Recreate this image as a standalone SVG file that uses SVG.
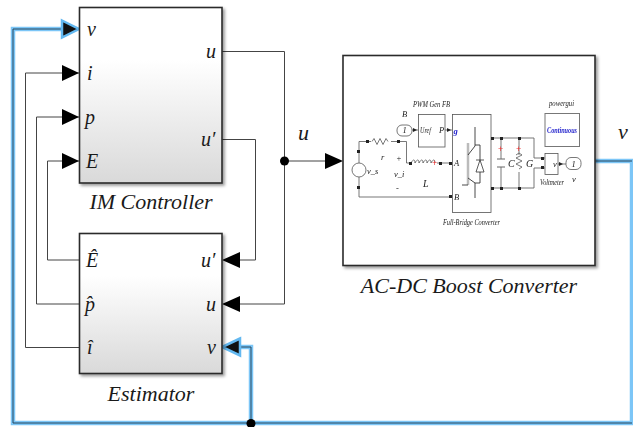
<svg xmlns="http://www.w3.org/2000/svg" width="633" height="427" viewBox="0 0 633 427">
<style>
.blk{stroke:#2b2b2b;stroke-width:1.6}
.w{fill:none;stroke:#444;stroke-width:1}
.glow{fill:none;stroke:#7cc6f7;stroke-width:4.5}
.core{fill:none;stroke:#24475f;stroke-width:1}
.t{font-family:"Liberation Serif",serif;font-style:italic;fill:#1a1a1a}
.m{font-size:20px}
.l{font-size:22px}
.s{font-family:"Liberation Serif",serif;font-style:italic;fill:#222;font-size:8.5px}
.s9{font-size:10px}
.bl{fill:#2222cc;font-weight:bold}
.c{fill:none;stroke:#555;stroke-width:.8}
.p{fill:#222}
.r{fill:#e33;font-family:"Liberation Sans",sans-serif;font-size:9px}
</style>
<defs>
<linearGradient id="g" x1="0" y1="0" x2="0" y2="1"><stop offset=".3" stop-color="#fff"/><stop offset="1" stop-color="#d9d9d9"/></linearGradient>
<filter id="sh" x="-10%" y="-10%" width="125%" height="125%"><feDropShadow dx="2" dy="2" stdDeviation="1.5" flood-color="#000" flood-opacity=".4"/></filter>
<filter id="bl" x="-5%" y="-5%" width="110%" height="110%"><feGaussianBlur stdDeviation=".45"/></filter>
</defs>
<rect width="633" height="427" fill="#fff"/>
<g id="connectors">
<path class="w" d="M222 51.500H284.500V304H240M222 139.500H255.500V260H240M284.500 161H326M79 73H25.500V347.500H80M79 117H36.500V304H80M79 161H47.500V260H80"/>
<path class="glow" d="M66 29H13V423H632V161H595M251 423V347H232"/>
<path class="core" d="M66 29H13V423H632M632 161H595M251 423V347H232"/>
<path d="M62 20.500L79 29L62 37.500Z" fill="#111" stroke="#63b8f0" stroke-width="2.500"/>
<path d="M240 338.500L222 347L240 355.500Z" fill="#111" stroke="#63b8f0" stroke-width="2.500"/>
<path d="M62 65L79 73L62 81ZM62 109L79 117L62 125ZM62 153L79 161L62 169ZM240 252L222 260L240 268ZM240 296L222 304L240 312ZM325 153L343 161L325 169Z" fill="#000"/>
<circle cx="284.500" cy="161" r="4.500" fill="#000"/>
<circle cx="251" cy="423.500" r="4.500" fill="#000"/>
</g>
<g id="im-controller">
<rect class="blk" x="79.500" y="7.500" width="142.500" height="175.500" fill="url(#g)" filter="url(#sh)"/>
<text class="t m" x="87" y="36">v</text><text class="t m" x="87" y="80">i</text><text class="t m" x="85" y="124">p</text><text class="t m" x="86" y="168">E</text>
<text class="t m" x="206" y="58">u</text><text class="t m" x="201" y="146">u′</text>
<text class="t l" x="151" y="209" text-anchor="middle">IM Controller</text>
</g>
<g id="estimator">
<rect class="blk" x="79.500" y="233.500" width="142.500" height="140" fill="url(#g)" filter="url(#sh)"/>
<text class="t m" x="86" y="267">Ê</text>
<text class="t m" x="85" y="311">p̂</text>
<text class="t m" x="87" y="354">î</text>
<text class="t m" x="201" y="267">u′</text><text class="t m" x="206" y="311">u</text><text class="t m" x="207" y="354">v</text>
<text class="t l" x="151" y="401" text-anchor="middle">Estimator</text>
</g>
<g id="converter">
<rect class="blk" x="343" y="55.500" width="252" height="210" fill="#fff" filter="url(#sh)"/>
<text class="t l" x="469" y="293" text-anchor="middle">AC-DC Boost Converter</text>
<g filter="url(#bl)">
<rect class="c" x="418.500" y="114.500" width="26.500" height="32.500" fill="#fff"/>
<rect class="c" x="452.500" y="114.500" width="38.500" height="98"/>
<rect x="545" y="113.500" width="34.500" height="33" fill="#fff" stroke="#777"/>
<rect class="c" x="545" y="153.500" width="13" height="21"/>
<rect class="c" x="397" y="125" width="15" height="11" rx="5"/>
<rect class="c" x="566" y="157.500" width="15" height="12" rx="5"/>
<path class="c" d="M412 130H418M445 130H452M359 141.500H371M391 141.500H406.500V163H411M437 163H452M359 141.500V163M359 177V197H450M491 138H534V158H545M491 188H534V168H545M558 164H566M501 138V159M501 167V188M519 138V155M519 172V188M516 155l3-2 3 2-6 3 6 3-6 3 6 3-3 2M372 141.500l2-3 3 6 3-6 3 6 3-6 2 3"/>
<path d="M468 143V185" stroke="#bbb" stroke-width="2.500"/>
<path d="M475 127V146L468 155M468 178L475 183V198M462 185H468M475 145H480V160M480 172V183H475" fill="none" stroke="#333" stroke-width=".9"/>
<path d="M476 172H484L480 160ZM476 160H484" fill="none" stroke="#333" stroke-width=".8"/>
<path class="c" d="M411 163c2-4 4-4 4 0c2-4 4-4 4 0c2-4 4-4 4 0c2-4 4-4 4 0c2-4 4-4 4 0c2-4 4-4 4 0"/>
<path d="M497 159H505M497 167H505" stroke="#666"/>
<circle cx="359" cy="170" r="7" fill="#fff" stroke="#555" stroke-width=".8"/>
<path class="p" d="M413 128l4 2-4 2zM447 128l4 2-4 2zM559 162l4 2-4 2zM366 140h3v3h-3zM397 140h3v3h-3zM357 150h3v3h-3zM357 186h3v3h-3zM449 195h3v3h-3zM409 162h3v3h-3zM439 162h3v3h-3zM449 162h3v3h-3zM491 137h3v3h-3zM491 187h3v3h-3zM500 137h3v3h-3zM500 187h3v3h-3zM518 137h3v3h-3zM518 187h3v3h-3zM541 157h3v3h-3zM541 166h3v3h-3z"/>
<text class="r" x="498" y="152">+</text><text class="r" x="516" y="152">+</text><text class="r" x="432" y="166">+</text>
<text class="s" x="413" y="107" textLength="37" lengthAdjust="spacingAndGlyphs">PWM Gen FB</text>
<text class="s" x="402" y="117">B</text>
<text class="s" x="404.500" y="133" text-anchor="middle">1</text>
<text class="s" x="420" y="133" textLength="11" lengthAdjust="spacingAndGlyphs">Uref</text><text class="s" x="439" y="133">P</text><text class="s bl" x="453.500" y="134">g</text>
<text class="s" x="381" y="160">r</text><text class="s" x="367" y="174">v_s</text>
<text class="s" x="394" y="177">v_i</text><text class="s" x="396" y="161">+</text><text class="s" x="396" y="191">-</text>
<text class="s s9" x="423" y="187">L</text>
<text class="s" x="454" y="166">A</text><text class="s" x="454" y="200">B</text>
<text class="s s9" x="508" y="167">C</text><text class="s s9" x="526" y="167">G</text>
<text class="s" x="443" y="225" textLength="57" lengthAdjust="spacingAndGlyphs">Full-Bridge Converter</text>
<text class="s" x="549" y="106" textLength="25" lengthAdjust="spacingAndGlyphs">powergui</text>
<text class="s bl" x="547" y="133" textLength="30" lengthAdjust="spacingAndGlyphs">Continuous</text>
<text class="s" x="540" y="185" textLength="24" lengthAdjust="spacingAndGlyphs">Voltmeter</text><text class="s" x="572" y="182">v</text>
<text class="s" x="573.500" y="167" text-anchor="middle">1</text>
<text class="s" x="553" y="167">v</text>
</g>
</g>
<g id="labels">
<text class="t l" x="298" y="140">u</text>
<text class="t l" x="618" y="139">v</text>
</g>
</svg>
